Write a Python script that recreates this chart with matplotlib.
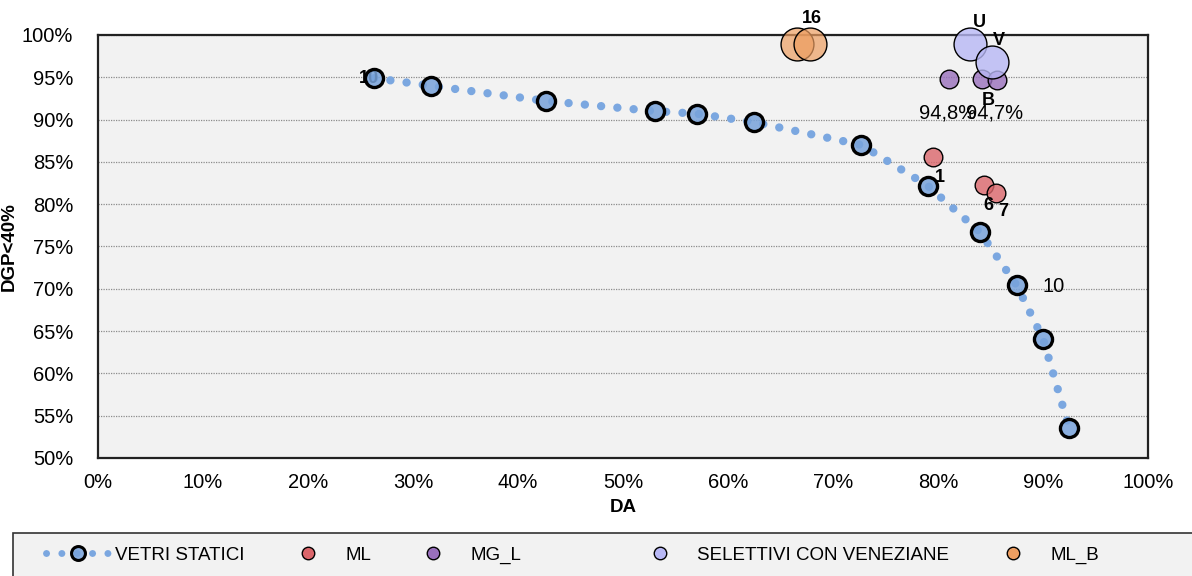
import matplotlib

matplotlib.use("Agg")
import matplotlib.pyplot as plt  # noqa: E402
from matplotlib.lines import Line2D  # noqa: E402
from matplotlib.patches import Rectangle  # noqa: E402
from matplotlib.ticker import FuncFormatter  # noqa: E402

plt.rcParams["font.family"] = ["Liberation Sans", "DejaVu Sans"]

# VETRI STATICI (DA, DGP<40%) in %
STAT_DA = [26.3, 31.7, 42.7, 53.0, 57.0, 62.5, 72.7, 79.0, 84.0, 87.5, 90.0, 92.5]
STAT_DGP = [94.9, 94.0, 92.2, 91.0, 90.7, 89.7, 87.0, 82.2, 76.7, 70.4, 64.1, 53.5]

ML_DA = [79.5, 84.4, 85.5]
ML_DGP = [85.6, 82.3, 81.3]
ML_LAB = ["1", "6", "7"]

MGL_DA = [81.0, 84.2, 85.6]
MGL_DGP = [94.8, 94.8, 94.7]

SEL_DA = [83.0, 85.1]
SEL_DGP = [98.9, 96.8]
SEL_LAB = ["U", "V"]

MLB_DA = [66.6, 67.8]
MLB_DGP = [98.9, 98.9]

LEGEND = ["VETRI STATICI", "ML", "MG_L", "SELETTIVI CON VENEZIANE", "ML_B"]

BLUE_DOT = "#7ba7e0"
BLUE_FILL = (0.47, 0.64, 0.86, 0.85)
RED = (0.86, 0.40, 0.42, 0.8)
PURPLE = (0.60, 0.44, 0.74, 0.8)
LAVENDER = (0.72, 0.72, 0.96, 0.8)
ORANGE = (0.93, 0.62, 0.38, 0.7)

DOTS = (0, (0.01, 1.95))

fig = plt.figure(figsize=(11.92, 5.76), dpi=100)
ax = fig.add_axes([98 / 1192, 1 - 458 / 576, 1050 / 1192, 423 / 576])
ax.set_facecolor("#f2f2f2")

ax.plot(STAT_DA, STAT_DGP, ls=DOTS, lw=6, color=BLUE_DOT, dash_capstyle="round",
        solid_capstyle="round", zorder=2)
ax.scatter(STAT_DA, STAT_DGP, s=170, facecolor=BLUE_FILL, edgecolor="black", lw=2.4, zorder=4)

ax.scatter(ML_DA, ML_DGP, s=180, facecolor=RED, edgecolor="black", lw=1, zorder=4)
ax.scatter(MGL_DA, MGL_DGP, s=180, facecolor=PURPLE, edgecolor="black", lw=1, zorder=4)
ax.scatter(SEL_DA, SEL_DGP, s=560, facecolor=LAVENDER, edgecolor="black", lw=1, zorder=5,
           clip_on=False)
ax.scatter(MLB_DA, MLB_DGP, s=560, facecolor=ORANGE, edgecolor="black", lw=1, zorder=5,
           clip_on=False)

# data labels
bold = dict(fontsize=13, fontweight="bold", ha="center", va="center", zorder=6)
ax.text(25.8, 94.9, "10", zorder=3, fontsize=13, fontweight="bold", ha="center", va="center")
ax.text(91.0, 70.3, "10", fontsize=14.5, ha="center", va="center", zorder=6)
ax.text(80.2, 83.2, ML_LAB[0], **bold)
ax.text(84.8, 79.9, ML_LAB[1], **bold)
ax.text(86.2, 79.1, ML_LAB[2], **bold)
ax.text(83.9, 101.5, SEL_LAB[0], clip_on=False, **bold)
ax.text(85.8, 99.4, SEL_LAB[1], clip_on=False, **bold)
ax.text(84.8, 92.3, "B", **bold)
ax.text(80.9, 90.8, "94,8%", fontsize=14.5, ha="center", va="center", zorder=6)
ax.text(85.4, 90.8, "94,7%", fontsize=14.5, ha="center", va="center", zorder=6)
ax.text(68.0, 102.0, "16", clip_on=False, **bold)

ax.set_xlim(0, 100)
ax.set_ylim(50, 100)
ax.set_xticks(range(0, 101, 10))
ax.set_yticks(range(50, 101, 5))
pct = FuncFormatter(lambda v, _: f"{v:.0f}%")
ax.xaxis.set_major_formatter(pct)
ax.yaxis.set_major_formatter(pct)
ax.tick_params(length=0, labelsize=14.5, colors="black")
ax.tick_params(axis="x", pad=11)
ax.tick_params(axis="y", pad=18)
ax.grid(axis="y", ls=(0, (1, 1)), color="#8c8c8c", lw=0.9)
ax.set_axisbelow(True)
for sp in ax.spines.values():
    sp.set_color("#222222")
    sp.set_linewidth(1.6)

ax.set_xlabel("DA", fontsize=13.5, fontweight="bold", labelpad=5)
ax.set_ylabel("DGP<40%", fontsize=13.5, fontweight="bold")
ax.yaxis.set_label_coords((18 - 98) / 1050, 0.5)

# legend box along the bottom
fig.patches.append(Rectangle((13 / 1192, -0.05), 1.1, (576 - 533) / 576 + 0.05,
                             transform=fig.transFigure, facecolor="#f2f2f2",
                             edgecolor="#333333", lw=1.2, zorder=0))

handles = [
    Line2D([], [], ls=(0, (0.01, 2.2)), lw=5, color=BLUE_DOT, dash_capstyle="round", marker="o",
           markersize=10, markerfacecolor=BLUE_FILL, markeredgecolor="black", markeredgewidth=2.2),
    Line2D([], [], ls="none", marker="o", markersize=9, markerfacecolor=RED[:3], markeredgecolor="black"),
    Line2D([], [], ls="none", marker="o", markersize=9, markerfacecolor=PURPLE[:3], markeredgecolor="black"),
    Line2D([], [], ls="none", marker="o", markersize=9, markerfacecolor=LAVENDER[:3], markeredgecolor="black"),
    Line2D([], [], ls="none", marker="o", markersize=9, markerfacecolor=ORANGE[:3], markeredgecolor="black"),
]
starts = [46, 276, 401, 628, 981]
for h, lab, x0 in zip(handles, LEGEND, starts):
    fig.legend(handles=[h], labels=[lab], loc="center left",
               bbox_to_anchor=(x0 / 1192, 1 - 555 / 576), frameon=False, fontsize=13.5,
               handlelength=3.4, handletextpad=0.3, borderpad=0, borderaxespad=0)

fig.savefig("out.png", dpi=100)
